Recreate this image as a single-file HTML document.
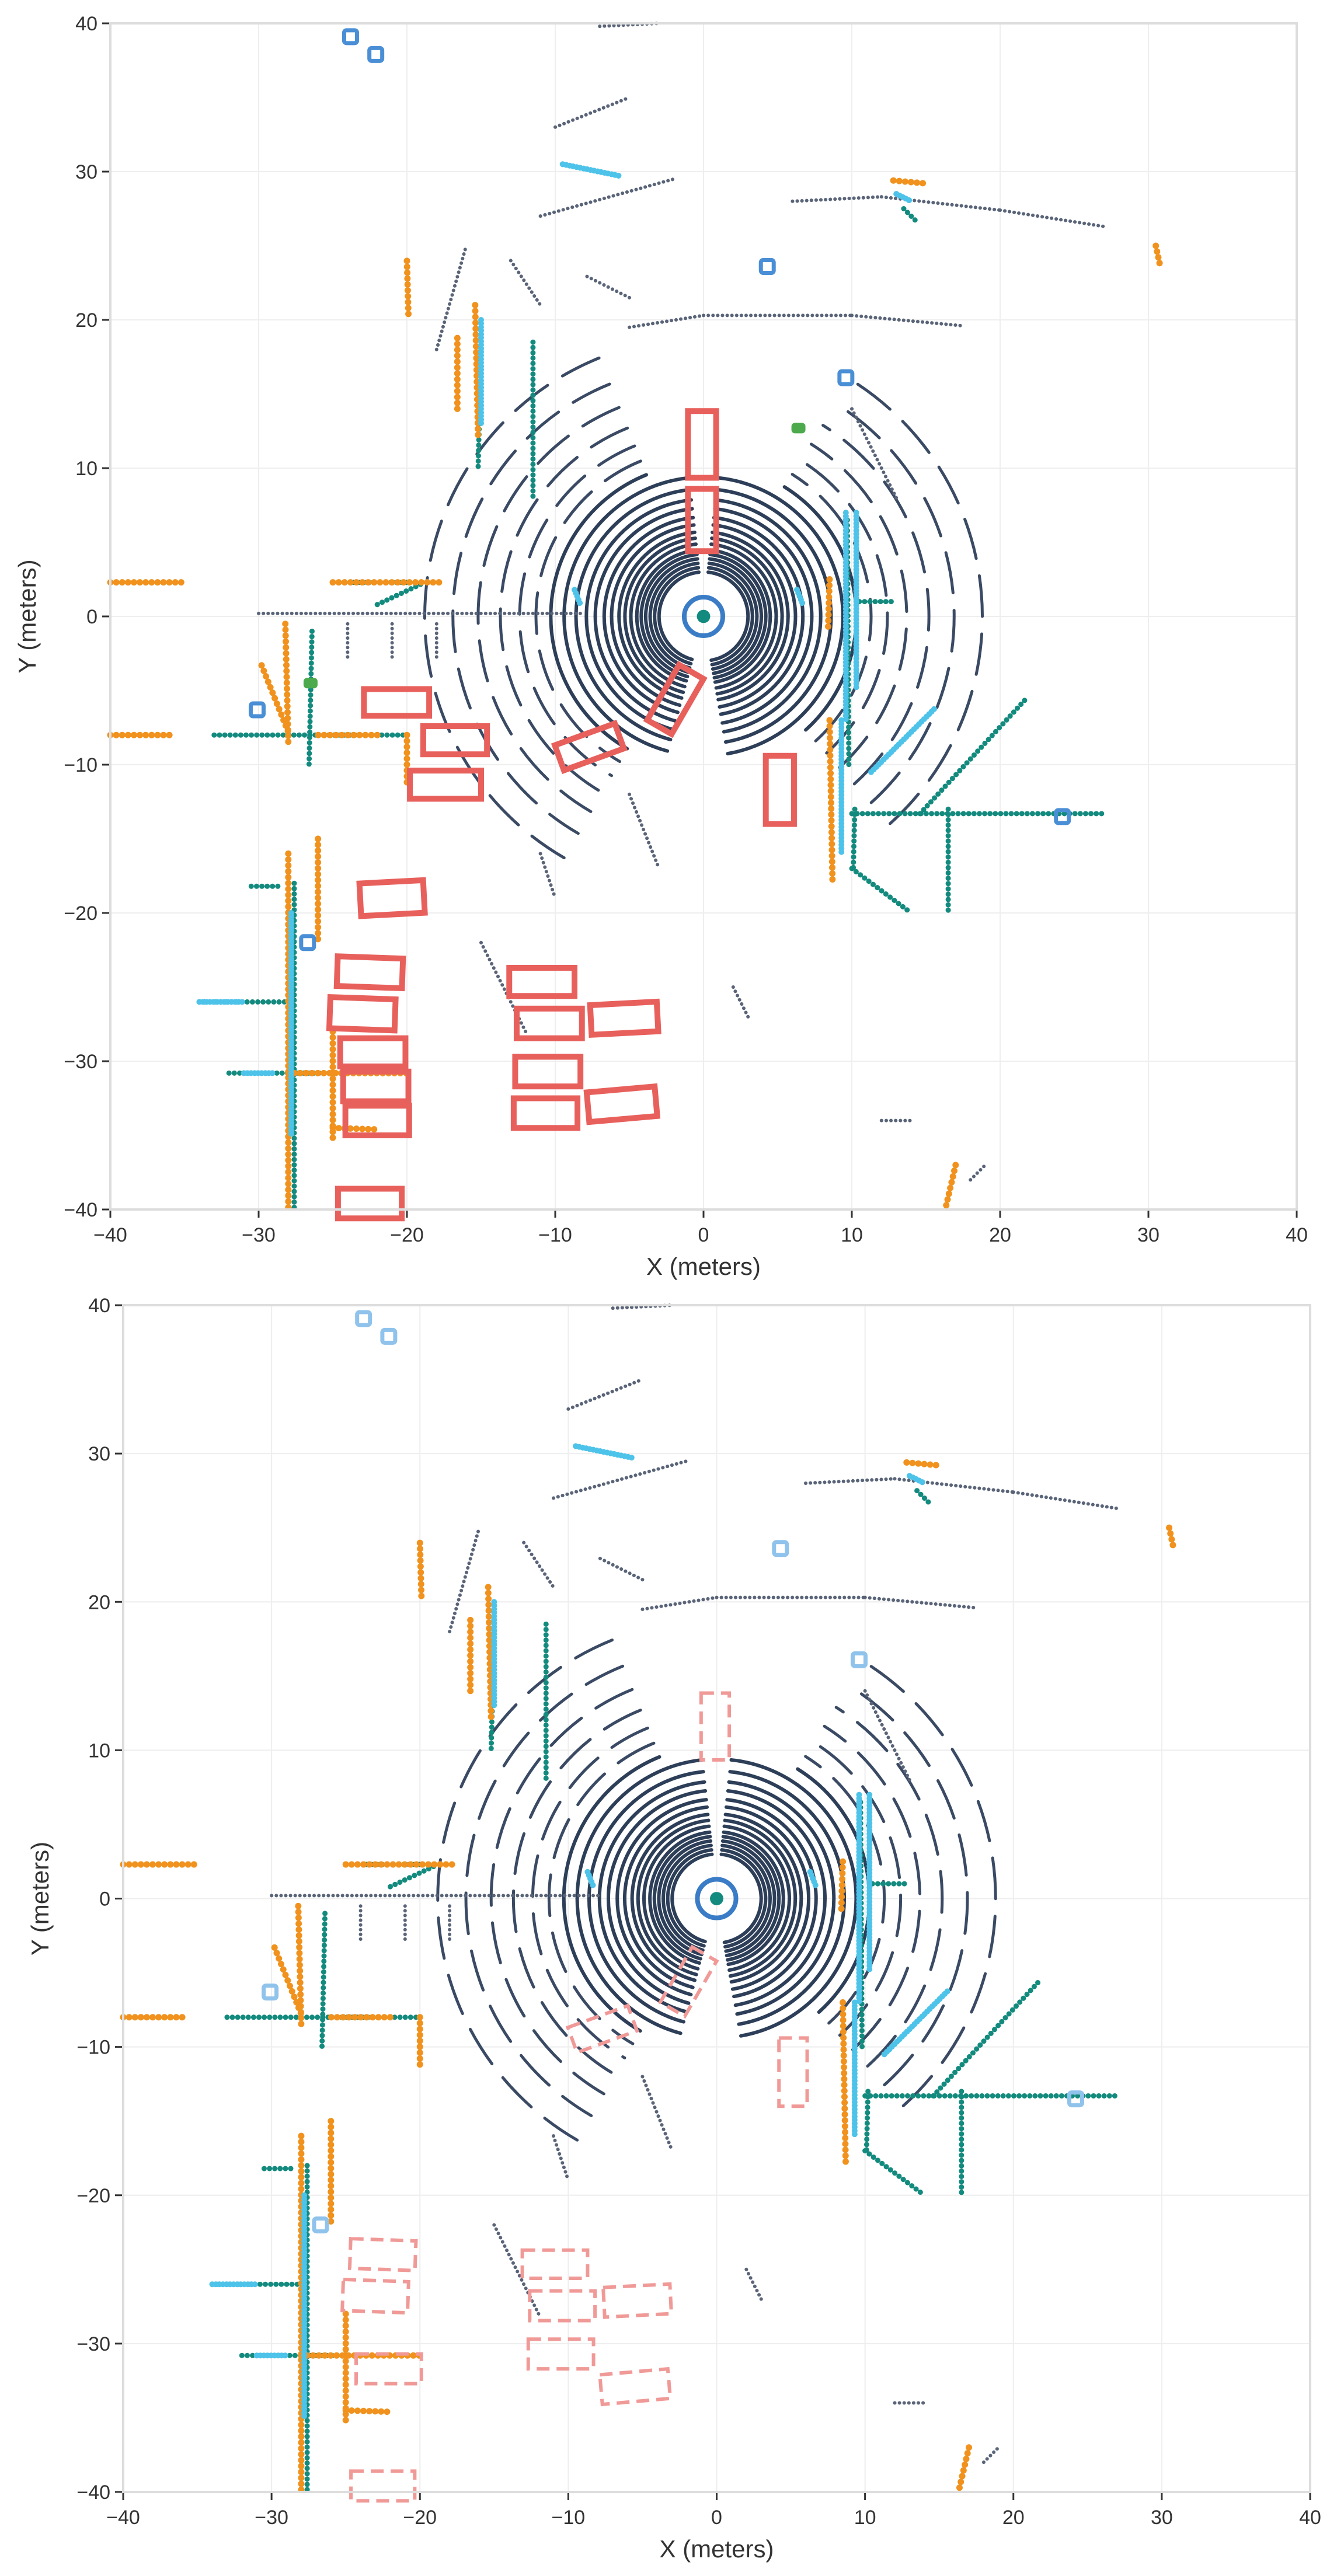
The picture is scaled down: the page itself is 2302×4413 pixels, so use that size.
<!DOCTYPE html>
<html><head><meta charset="utf-8">
<style>
html,body{margin:0;padding:0;background:#fff;}
svg{display:block;}
text{font-family:"Liberation Sans","DejaVu Sans",sans-serif;fill:#333;}
</style></head>
<body>
<svg id="chart" width="2302" height="4413" viewBox="0 0 2302 4413" xmlns="http://www.w3.org/2000/svg">
<rect x="0" y="0" width="2302" height="4413" fill="#fff"/>
</svg>
<script>
// ---- data (meters) ----
const ticks = [-40,-30,-20,-10,0,10,20,30,40];
const ringRadii = [3.0,3.3,3.6,3.9,4.2,4.5,4.9,5.3,5.7,6.2,6.7,7.3,7.9,8.6,9.4,10.3,11.3,12.4,13.7,15.2,16.9,18.8];
const ringSpansNear = [[-80,84],[96,255]];
const ringSpansFar = [[-48,58],[112,240]];
// boxes: cx, cy, w, h, rotation(deg, screen clockwise)
const boxes = [
 [-0.1,11.6,1.9,4.5,0],[-0.1,6.5,1.9,4.2,0],[-1.9,-5.6,1.9,4.3,30],[-7.7,-8.8,4.3,1.8,-20],
 [5.15,-11.7,1.9,4.6,0],[-20.7,-5.8,4.4,1.8,0],[-16.75,-8.35,4.3,1.9,0],[-17.4,-11.35,4.8,1.9,0],
 [-21,-19,4.3,2.2,-3],[-22.5,-24,4.4,2,2],[-23,-26.8,4.4,2.1,2],[-22.3,-29.4,4.4,1.9,0],
 [-22.1,-31.7,4.4,2,0],[-22,-34,4.3,2,0],[-22.5,-39.6,4.3,2,0],[-10.9,-24.65,4.4,1.9,0],
 [-10.4,-27.45,4.4,2,0],[-5.35,-27.1,4.5,2,-3],[-10.5,-30.7,4.4,2,0],[-10.65,-33.5,4.3,2,0],
 [-5.5,-32.9,4.6,2,-5]];
const bottomBoxIdx = [0,2,3,4,9,10,12,14,15,16,17,18,20];
const smallSquares = [[-23.8,39.1],[-22.1,37.9],[4.3,23.6],[9.6,16.1],[-30.1,-6.3],[-26.7,-22],[24.2,-13.5]];
const greenSquares = [[-26.5,-4.5],[6.4,12.7]];
// segments: x1,y1,x2,y2
const orangeSegs = [
 [-28,-16,-28,-40],[-28.2,-0.5,-28,-8.5],[-29.8,-3.3,-28,-7.8],[-40,2.3,-35,2.3],[-25,2.3,-17.5,2.3],
 [-20,-8,-20,-11.5],[-19.9,20.4,-20,24],[-15.4,21,-15.2,12],[8.5,-7,8.7,-18],[8.5,2.5,8.4,-0.8],
 [12.8,29.4,15,29.2],[30.5,25,30.8,23.6],[-28,-30.8,-20,-30.8],[-26,-15,-26,-22],[-25,-28,-25,-35.5],
 [17,-37,16.3,-40],[-25,-34.5,-22,-34.6],[-22,-8,-26,-8],[-40,-8,-36,-8],[-16.6,14,-16.6,19]];
const tealSegs = [
 [-27.6,-18,-27.6,-40],[-26.4,-1,-26.6,-10],[-22,0.8,-19,2.2],[-33,-8,-26,-8],[-26,-8,-20,-8],
 [9.7,6.5,9.8,-10],[14.6,-13.3,21.8,-5.5],[10,-13.3,27,-13.3],[16.5,-13,16.5,-20],[10.2,-13,10.1,-17],
 [10,-17,14,-20],[-15,18,-15.2,10],[-11.5,18.5,-11.5,8],[10.5,1,13,1],[-32,-30.8,-24,-30.8],
 [-34,-26,-28,-26],[-30.5,-18.2,-28.5,-18.2],[-23.6,2.3,-20,2.3],[13.5,27.5,14.5,26.5]];
const blueSegs = [
 [9.6,7,9.6,-7],[10.3,7,10.3,-5],[-9.5,30.5,-5.6,29.7],[-15,20,-15,13],[11.3,-10.5,15.7,-6.1],
 [-27.8,-20,-27.8,-35],[-34,-26,-31,-26],[13,28.5,14,28],[-31,-30.8,-29,-30.8],[9.3,-7,9.3,-16],
 [-8.7,1.8,-8.3,0.8],[6.3,1.8,6.7,0.8]];
const graySegs = [
 [-5,19.5,0,20.3],[0,20.3,10,20.3],[10,20.3,17.5,19.6],[6,28,12,28.3],[12,28.3,20,27.4],[20,27.4,27,26.3],
 [-7,39.8,-3,40],[-11,27,-2,29.5],[-10,33,-5,35],[-13,24,-11,21],[-18,18,-16,25],[-30,0.2,-8,0.2],
 [-24,-0.5,-24,-3],[-21,-0.5,-21,-3],[-18,-0.5,-18,-3],[-15,-22,-12,-28],[-5,-12,-3,-17],[10,14,13,8],
 [18,-38,19,-37],[2,-25,3,-27],[-5,21.5,-8,23],[-11,-16,-10,-19],[12,-34,14,-34]];

// ---- panels ----
const NS='http://www.w3.org/2000/svg';
const svg=document.getElementById('chart');
function el(tag, attrs, parent){const e=document.createElementNS(NS,tag);for(const k in attrs)e.setAttribute(k,attrs[k]);(parent||svg).appendChild(e);return e;}
const panels=[{L:189,T:40,S:2032,name:'top',pred:false},{L:211,T:2236,S:2033,name:'bottom',pred:true}];
panels.forEach(p=>{
 const sx=x=>p.L+(x+40)/80*p.S, sy=y=>p.T+(40-y)/80*p.S, k=p.S/80;
 const g=el('g',{});
 
 
 // grid
 ticks.forEach(t=>{
  el('line',{x1:sx(t),x2:sx(t),y1:p.T,y2:p.T+p.S,stroke:'#eeeeee','stroke-width':2},g);
  el('line',{x1:p.L,x2:p.L+p.S,y1:sy(t),y2:sy(t),stroke:'#eeeeee','stroke-width':2},g);
 });
 // rings
 const rg=el('g',{fill:'none','stroke-linecap':'round'},g);
 
 
 ringRadii.forEach((r,i)=>{
  const spans=r<=9.4?ringSpansNear:ringSpansFar;
  spans.forEach(s=>{
   const a1=s[0]*Math.PI/180,a2=s[1]*Math.PI/180;
   const R=r*k;
   const x1=sx(r*Math.cos(a1)),y1=sy(r*Math.sin(a1)),x2=sx(r*Math.cos(a2)),y2=sy(r*Math.sin(a2));
   const large=(s[1]-s[0])>180?1:0;
   el('path',{d:`M${x1},${y1} A${R},${R} 0 ${large} 0 ${x2},${y2}`,stroke:r>11?'#3a4a64':'#2d3e58','stroke-width':r>11?5:6,'stroke-dasharray':r>11?'70 30':'none'},rg);
  });
 });
 // segments
 function segs(arr,color,w,gap,name){
  const sg=el('g',{stroke:color,'stroke-width':w,'stroke-linecap':'round',fill:'none','stroke-dasharray':'0.1 '+gap},g);
  
  
  arr.forEach(s=>el('line',{x1:sx(s[0]),y1:sy(s[1]),x2:sx(s[2]),y2:sy(s[3])},sg));
 }
 segs(graySegs,'#5a6478',6,8,'background-points');
 segs(tealSegs,'#138a7e',9,9,'teal-points');
 segs(orangeSegs,'#f0921d',11,10,'orange-points');
 segs(blueSegs,'#4ec3ea',10,6,'lightblue-points');
 // small squares
 smallSquares.forEach(q=>{
  const r=el('rect',{x:sx(q[0])-11,y:sy(q[1])-11,width:22,height:22,rx:4,fill:'none',stroke:p.pred?'#8fc3ec':'#4a8fd6','stroke-width':7},g);
  
  
 });
 if(!p.pred) greenSquares.forEach(q=>{el('rect',{x:sx(q[0])-12,y:sy(q[1])-9,width:24,height:18,rx:6,fill:'#4caa4c'},g);});
 // boxes
 const idx=p.pred?bottomBoxIdx:boxes.map((b,i)=>i);
 idx.forEach(i=>{
  const b=boxes[i];const w=b[2]*k,h=b[3]*k,cx=sx(b[0]),cy=sy(b[1]);
  const r=el('rect',{x:cx-w/2,y:cy-h/2,width:w,height:h,fill:'none',stroke:p.pred?'#f09a98':'#e8605c','stroke-width':p.pred?6:10,'stroke-dasharray':p.pred?'22 12':'none',transform:`rotate(${b[4]} ${cx} ${cy})`},g);
  
  
 });
 // ego
 const ego=el('circle',{cx:sx(0),cy:sy(0),r:1.3*k,fill:'none',stroke:'#3a7cc6','stroke-width':8},g);
 
 
 el('circle',{cx:sx(0),cy:sy(0),r:0.45*k,fill:'#138a7e'},g);
 // spines
 el('rect',{x:p.L,y:p.T,width:p.S,height:p.S,fill:'none',stroke:'#dddddd','stroke-width':4},g);
 // ticks & labels
 ticks.forEach(t=>{
  el('line',{x1:sx(t),x2:sx(t),y1:p.T+p.S+2,y2:p.T+p.S+14,stroke:'#333','stroke-width':3},g);
  el('line',{x1:p.L-14,x2:p.L-2,y1:sy(t),y2:sy(t),stroke:'#333','stroke-width':3},g);
  const lbl=(t<0?'\u2212'+(-t):''+t);
  const tx=el('text',{x:sx(t),y:p.T+p.S+55,'font-size':34,'text-anchor':'middle'},g);tx.textContent=lbl;
  
  
  const ty=el('text',{x:p.L-22,y:sy(t)+12,'font-size':34,'text-anchor':'end'},g);ty.textContent=lbl;
  
  
 });
 const xt=el('text',{x:p.L+p.S/2,y:p.T+p.S+112,'font-size':42,'text-anchor':'middle'},g);xt.textContent='X (meters)';
 
 
 const yx=p.L-128, yy=p.T+p.S/2;
 const yt=el('text',{x:yx,y:yy,'font-size':42,'text-anchor':'middle',transform:`rotate(-90 ${yx} ${yy})`},g);yt.textContent='Y (meters)';
 
 
});
</script>
</body></html>
